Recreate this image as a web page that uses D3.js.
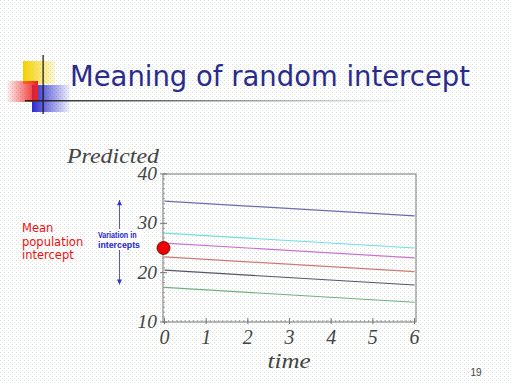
<!DOCTYPE html>
<html><head><meta charset="utf-8">
<script src="https://cdn.jsdelivr.net/npm/d3@7"></script>
<style>html,body{margin:0;padding:0;background:#fff;}svg{display:block;}</style>
</head><body>
<script>
const title = "Meaning of random intercept";
const timePoints = [0, 6];
const xTicks = [0, 1, 2, 3, 4, 5, 6];
const yTicks = [10, 20, 30, 40];
const seriesNames = ["s1", "s2", "s3", "s4", "s5", "s6"];
const startValues = [34.5, 28, 26, 23.2, 20.5, 17];
const endValues = [31.5, 25, 23, 20.2, 17.5, 14];
const seriesColors = ["#6b6bb0", "#6fe0e0", "#cc70d0", "#d07878", "#555566", "#70b080"];
const meanIntercept = 25;
const leftLabel = ["Mean", "population", "intercept"];
const arrowLabel = ["Variation in", "intercepts"];
const yLabel = "Predicted", xLabel = "time", pageNum = "19";

const W = 512, H = 384;
const svg = d3.select("body").append("svg").attr("width", W).attr("height", H);
const defs = svg.append("defs");
const pat = defs.append("pattern").attr("id","dots").attr("width",4).attr("height",4).attr("patternUnits","userSpaceOnUse");
pat.append("rect").attr("width",4).attr("height",4).attr("fill","#fdfefd");
pat.append("rect").attr("x",0).attr("y",0).attr("width",1).attr("height",1).attr("fill","#d6e2da");
pat.append("rect").attr("x",2).attr("y",2).attr("width",1).attr("height",1).attr("fill","#e2ebe5");
svg.append("rect").attr("width",W).attr("height",H).attr("fill","url(#dots)");

function grad(id, color, x1, y1, x2, y2, o1, o2){
  const g = defs.append("linearGradient").attr("id",id).attr("x1",x1).attr("y1",y1).attr("x2",x2).attr("y2",y2);
  g.append("stop").attr("offset","0%").attr("stop-color",color).attr("stop-opacity",o1);
  g.append("stop").attr("offset","100%").attr("stop-color",color).attr("stop-opacity",o2);
}
grad("gy","#f5d000","0","0","1","0",1,0.15);
grad("gr","#f02020","1","0","0","0",1,0.05);
grad("gb","#2a2ad0","0","0","1","0",1,0.05);
grad("gl","#222222","0","0","1","0",1,0);
svg.append("rect").attr("x",23).attr("y",61).attr("width",32).attr("height",23).attr("fill","url(#gy)");
svg.append("rect").attr("x",32).attr("y",85).attr("width",38).attr("height",27).attr("fill","url(#gb)");
svg.append("rect").attr("x",7).attr("y",81).attr("width",31).attr("height",21).attr("fill","url(#gr)");
svg.append("rect").attr("x",42.5).attr("y",55).attr("width",1.2).attr("height",59).attr("fill","#111");
svg.append("rect").attr("x",25).attr("y",100).attr("width",390).attr("height",1.5).attr("fill","url(#gl)");

svg.append("text").attr("x",70).attr("y",86).attr("textLength",400).attr("lengthAdjust","spacingAndGlyphs")
  .attr("font-family","DejaVu Sans, Verdana, sans-serif").attr("font-size",28).attr("fill","#2b2b8c").text(title);

const pl = 163, pr = 416, pt = 174, pb = 322;
const x = d3.scaleLinear().domain([0,6]).range([164.5,414.5]);
const y = d3.scaleLinear().domain([10,40]).range([pb,pt]);
const frame = svg.append("g");
frame.append("rect").attr("x",pl).attr("y",pt).attr("width",pr-pl).attr("height",pb-pt)
  .attr("fill","none").attr("stroke","#8a8a8a").attr("stroke-width",1.2);
const xMinor = d3.range(0,60.5,1).map(d=>d/10);
frame.selectAll(".xm").data(xMinor).join("line")
  .attr("x1",d=>x(d)).attr("x2",d=>x(d)).attr("y1",pb).attr("y2",pb-2)
  .attr("stroke","#8a8a8a").attr("stroke-width",0.8);
const yMinor = d3.range(10,41,1);
frame.selectAll(".ym").data(yMinor).join("line")
  .attr("x1",pl).attr("x2",pl+2).attr("y1",d=>y(d)).attr("y2",d=>y(d))
  .attr("stroke","#8a8a8a").attr("stroke-width",0.8);
frame.selectAll(".yM").data(yTicks).join("line")
  .attr("x1",pl-3).attr("x2",pl+4).attr("y1",d=>y(d)).attr("y2",d=>y(d))
  .attr("stroke","#777").attr("stroke-width",1);
frame.selectAll(".xM").data(xTicks).join("line")
  .attr("x1",d=>x(d)).attr("x2",d=>x(d)).attr("y1",pb+2).attr("y2",pb-4)
  .attr("stroke","#777").attr("stroke-width",1);

const serif = "Liberation Serif, DejaVu Serif, serif";
svg.selectAll(".yt").data(yTicks).join("text")
  .attr("x",157).attr("y",d=>y(d)+6).attr("text-anchor","end")
  .attr("font-family",serif).attr("font-style","italic").attr("font-size",19.5).attr("fill","#444").text(d=>d);
svg.selectAll(".xt").data(xTicks).join("text")
  .attr("x",d=>x(d)).attr("y",344).attr("text-anchor","middle")
  .attr("font-family",serif).attr("font-style","italic").attr("font-size",20).attr("fill","#444").text(d=>d);
svg.append("text").attr("x",67).attr("y",163).attr("textLength",92).attr("lengthAdjust","spacingAndGlyphs")
  .attr("font-family",serif).attr("font-style","italic").attr("font-size",20).attr("fill","#444").text(yLabel);
svg.append("text").attr("x",289).attr("y",368).attr("text-anchor","middle").attr("textLength",43).attr("lengthAdjust","spacingAndGlyphs")
  .attr("font-family",serif).attr("font-style","italic").attr("font-size",21).attr("fill","#444").text(xLabel);

const data = seriesNames.map((n,i)=>({name:n, color:seriesColors[i],
  pts:[{t:timePoints[0],v:startValues[i]},{t:timePoints[1],v:endValues[i]}]}));
const line = d3.line().x(d=>x(d.t)).y(d=>y(d.v));
svg.selectAll(".ln").data(data).join("path")
  .attr("d",d=>line(d.pts)).attr("fill","none").attr("stroke",d=>d.color).attr("stroke-width",1.2);

const ax = 119.5;
svg.append("line").attr("x1",ax).attr("x2",ax).attr("y1",y(34.7)).attr("y2",y(17.6)).attr("stroke","#5555cc").attr("stroke-width",1);
svg.append("path").attr("d",`M${ax-2.5},${y(34.7)+5}L${ax},${y(34.7)}L${ax+2.5},${y(34.7)+5}Z`).attr("fill","#3333cc");
svg.append("path").attr("d",`M${ax-2.5},${y(17.6)-5}L${ax},${y(17.6)}L${ax+2.5},${y(17.6)-5}Z`).attr("fill","#3333cc");
svg.append("rect").attr("x",97).attr("y",229).attr("width",45).attr("height",21).attr("fill","#fdfefd");
svg.selectAll(".al").data(arrowLabel).join("text")
  .attr("x",98).attr("y",(d,i)=>237.5+i*10).attr("font-family","Liberation Sans, Arial, sans-serif")
  .attr("font-size",9).attr("font-weight","bold").attr("fill","#2424c8")
  .attr("textLength",(d,i)=>i===0?38.5:42).attr("lengthAdjust","spacingAndGlyphs").text(d=>d);

svg.selectAll(".ll").data(leftLabel).join("text")
  .attr("x",22).attr("y",(d,i)=>232+i*13.5).attr("font-family","DejaVu Sans, Verdana, sans-serif")
  .attr("font-size",11.5).attr("fill","#ee1111").text(d=>d);

svg.append("circle").attr("cx",x(0)-1).attr("cy",y(meanIntercept)).attr("r",6.5)
  .attr("fill","#ee0000").attr("stroke","#550000").attr("stroke-width",0.8);

svg.append("text").attr("x",476).attr("y",376).attr("text-anchor","middle").attr("font-family","Liberation Sans, Arial, sans-serif")
  .attr("font-size",10).attr("fill","#444").text(pageNum);
</script>
</body></html>
